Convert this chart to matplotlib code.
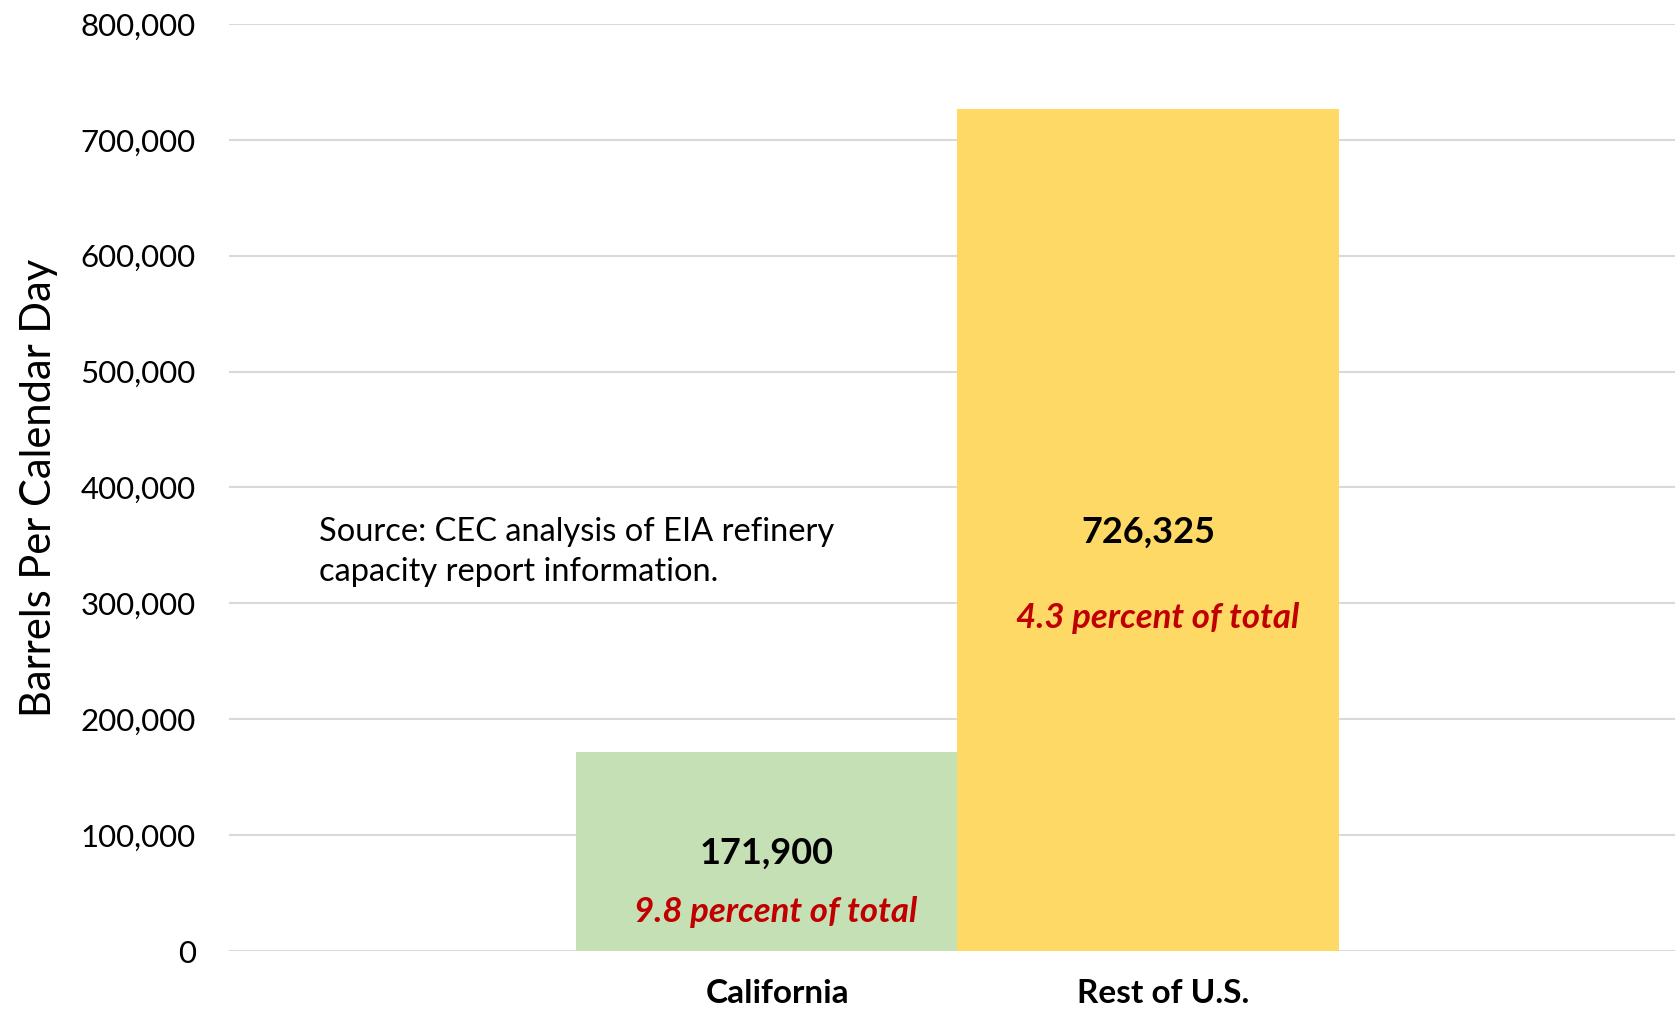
import matplotlib.pyplot as plt
from matplotlib.ticker import FuncFormatter

plt.rcParams['font.family'] = ['Lato', 'DejaVu Sans']

# data
regions = ["California", "Rest of U.S."]
capacity = [171900, 726325]
share_text = ["9.8 percent of total", "4.3 percent of total"]
bar_colors = ["#C5E0B4", "#FFD966"]

fig = plt.figure(figsize=(16.75, 10.13), dpi=100)
ax = fig.add_axes([229 / 1675, 1 - 951 / 1013, (1675 - 229) / 1675, (951 - 24) / 1013])

ax.bar([0, 1], capacity, width=1.0, color=bar_colors, zorder=2)

ax.set_ylim(0, 800000)
ax.set_xlim(-1.409, 2.381)
ax.set_yticks(range(0, 800001, 100000))
ax.yaxis.set_major_formatter(FuncFormatter(lambda v, p: f"{int(v):,}"))
ax.grid(axis="y", color="#D9D9D9", linewidth=1.5, zorder=0)
for s in ax.spines.values():
    s.set_visible(False)
ax.tick_params(axis="y", length=0, labelsize=22.5, pad=24)
ax.tick_params(axis="x", length=0)

ax.set_xticks([0.03, 1.04])
ax.set_xticklabels(regions, fontsize=24, fontweight="bold")
ax.tick_params(axis="x", pad=20)

ax.set_ylabel("Barrels Per Calendar Day", fontsize=30, labelpad=16)

# value labels
ax.text(0, 84000, f"{capacity[0]:,}", ha="center", va="center", fontsize=26, fontweight="bold")
ax.text(0.025, 34000, share_text[0], ha="center", va="center", fontsize=25,
        fontweight="bold", style="italic", color="#C00000")
ax.text(1, 361000, f"{capacity[1]:,}", ha="center", va="center", fontsize=26, fontweight="bold")
ax.text(1.025, 287000, share_text[1], ha="center", va="center", fontsize=25,
        fontweight="bold", style="italic", color="#C00000")

ax.text(-1.173, 344000, "Source: CEC analysis of EIA refinery\ncapacity report information.",
        ha="left", va="center", fontsize=23.5, linespacing=1.42)

fig.savefig("out.png", dpi=100)
